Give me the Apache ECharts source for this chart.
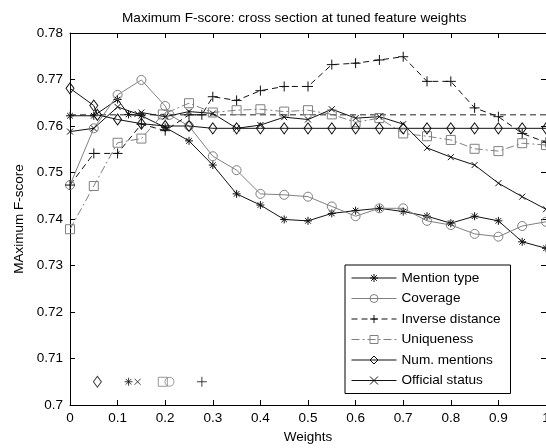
<!DOCTYPE html>
<html>
<head>
<meta charset="utf-8">
<script src="https://cdn.jsdelivr.net/npm/echarts@6/dist/echarts.min.js"></script>
<style>
  html, body { margin: 0; padding: 0; background: #fff; }
  #chart { width: 546px; height: 448px; }
</style>
</head>
<body>
<div id="chart"></div>
<script>
// Cross sections of the maximum F-score: one feature weight varied, the others held at their tuned values.
const mentionW  = [0, 0.05, 0.1, 0.123, 0.15, 0.2, 0.25, 0.3, 0.35, 0.4, 0.45, 0.5, 0.55, 0.6, 0.65, 0.7, 0.75, 0.8, 0.85, 0.9, 0.95, 1];
const mentionF  = [0.7622, 0.7622, 0.7657, 0.7625, 0.7622, 0.7597, 0.7568, 0.7516, 0.7454, 0.7430, 0.7399, 0.7396, 0.7412, 0.7418, 0.7423, 0.7416, 0.7406, 0.7391, 0.7406, 0.7396, 0.7351, 0.7337];

const coverageW = [0, 0.05, 0.1, 0.15, 0.2, 0.209, 0.25, 0.3, 0.35, 0.4, 0.45, 0.5, 0.55, 0.6, 0.65, 0.7, 0.75, 0.8, 0.85, 0.9, 0.95, 1];
const coverageF = [0.7473, 0.7595, 0.7667, 0.7699, 0.7643, 0.7624, 0.7600, 0.7535, 0.7505, 0.7454, 0.7452, 0.7448, 0.7427, 0.7406, 0.7423, 0.7423, 0.7396, 0.7387, 0.7368, 0.7362, 0.7385, 0.7394];

const inverseW  = [0, 0.05, 0.1, 0.15, 0.2, 0.25, 0.277, 0.3, 0.35, 0.4, 0.45, 0.5, 0.55, 0.6, 0.65, 0.7, 0.75, 0.8, 0.85, 0.9, 0.95, 1];
const inverseF  = [0.7473, 0.7541, 0.7541, 0.7604, 0.7590, 0.7624, 0.7624, 0.7663, 0.7655, 0.7676, 0.7685, 0.7685, 0.7732, 0.7735, 0.7742, 0.7749, 0.7696, 0.7696, 0.7639, 0.7620, 0.7584, 0.7565];

const uniqueW   = [0, 0.05, 0.1, 0.15, 0.195, 0.25, 0.3, 0.35, 0.4, 0.45, 0.5, 0.55, 0.6, 0.65, 0.7, 0.75, 0.8, 0.85, 0.9, 0.95, 1];
const uniqueF   = [0.7378, 0.7471, 0.7564, 0.7573, 0.7625, 0.7649, 0.7629, 0.7634, 0.7636, 0.7631, 0.7634, 0.7625, 0.7608, 0.7617, 0.7584, 0.7578, 0.7570, 0.7551, 0.7546, 0.7563, 0.7559];

const numW      = [0, 0.05, 0.0575, 0.1, 0.15, 0.2, 0.25, 0.3, 0.35, 0.4, 0.45, 0.5, 0.55, 0.6, 0.65, 0.7, 0.75, 0.8, 0.85, 0.9, 0.95, 1];
const numF      = [0.7681, 0.7644, 0.7624, 0.7614, 0.7605, 0.7600, 0.7600, 0.7595, 0.7595, 0.7595, 0.7595, 0.7595, 0.7595, 0.7595, 0.7595, 0.7595, 0.7595, 0.7595, 0.7595, 0.7595, 0.7595, 0.7595];

const officialW = [0, 0.05, 0.1, 0.142, 0.15, 0.2, 0.25, 0.3, 0.35, 0.4, 0.45, 0.5, 0.55, 0.6, 0.65, 0.7, 0.75, 0.8, 0.85, 0.9, 0.95, 1];
const officialF = [0.7588, 0.7595, 0.7641, 0.7626, 0.7629, 0.7620, 0.7631, 0.7627, 0.7595, 0.7602, 0.7619, 0.7614, 0.7636, 0.7617, 0.7620, 0.7604, 0.7553, 0.7533, 0.7516, 0.7477, 0.7448, 0.7421];

// Tuned weight of each feature (same order as the legend), shown as a marker row near the bottom
const tunedW = [0.123, 0.209, 0.277, 0.195, 0.0575, 0.142];
const tunedRowF = 0.705;
// F-score reached at the tuned weights
const tunedMaxF = 0.7624;

const xTicks = [0, 0.1, 0.2, 0.3, 0.4, 0.5, 0.6, 0.7, 0.8, 0.9, 1];
const yTicks = [0.7, 0.71, 0.72, 0.73, 0.74, 0.75, 0.76, 0.77, 0.78];

const FONT = '"Liberation Sans", Arial, Helvetica, sans-serif';
const BLACK = '#111';
const GRAY = '#808080';

const SYMBOLS = {
  asterisk: 'path://M5,0L5,10M0,5L10,5M1.5,1.5L8.5,8.5M8.5,1.5L1.5,8.5',
  plus: 'path://M5,0L5,10M0,5L10,5',
  cross: 'path://M0,0L10,10M10,0L0,10',
  circle: 'circle',
  square: 'rect',
  diamond: 'diamond'
};

const features = [
  { name: 'Mention type',     w: mentionW,  f: mentionF,  color: BLACK, dash: 'solid',       symbol: SYMBOLS.asterisk, size: 8 },
  { name: 'Coverage',         w: coverageW, f: coverageF, color: GRAY,  dash: 'solid',       symbol: SYMBOLS.circle,   size: 9 },
  { name: 'Inverse distance', w: inverseW,  f: inverseF,  color: BLACK, dash: [6, 4],        symbol: SYMBOLS.plus,     size: 10 },
  { name: 'Uniqueness',       w: uniqueW,   f: uniqueF,   color: GRAY,  dash: [8, 3, 2, 3],  symbol: SYMBOLS.square,   size: 9 },
  { name: 'Num. mentions',    w: numW,      f: numF,      color: BLACK, dash: 'solid',       symbol: SYMBOLS.diamond,  size: [8, 11] },
  { name: 'Official status',  w: officialW, f: officialF, color: BLACK, dash: 'solid',       symbol: SYMBOLS.cross,    size: 6 }
];

const zip = (xs, ys) => xs.map((x, i) => [x, ys[i]]);

const series = [
  {
    name: 'tuned',
    type: 'line',
    data: [[0, tunedMaxF], [1, tunedMaxF]],
    symbol: 'none',
    lineStyle: { color: '#222', width: 1, type: [6, 4] },
    silent: true,
    z: 1
  }
];

features.forEach(ft => {
  series.push({
    name: ft.name,
    type: 'line',
    data: zip(ft.w, ft.f),
    symbol: ft.symbol,
    symbolSize: ft.size,
    showAllSymbol: true,
    lineStyle: { color: ft.color, width: 1, type: ft.dash },
    itemStyle: { color: 'none', borderColor: ft.color, borderWidth: 1 },
    emphasis: { disabled: true },
    z: 2
  });
});

series.push({
  name: 'tuned weights',
  type: 'scatter',
  data: features.map((ft, i) => ({
    value: [tunedW[i], tunedRowF],
    symbol: ft.symbol,
    symbolSize: ft.size,
    itemStyle: { color: 'none', borderColor: ft.color, borderWidth: 1 }
  })),
  silent: true,
  z: 3
});

const axisCommon = {
  axisLine: { show: true, onZero: false, lineStyle: { color: '#000', width: 1 } },
  axisTick: { show: true, inside: true, length: 5, lineStyle: { color: '#000' } },
  splitLine: { show: false }
};

const chart = echarts.init(document.getElementById('chart'), null, { renderer: 'canvas' });
chart.setOption({
  animation: false,
  backgroundColor: '#fff',
  title: {
    text: 'Maximum F-score: cross section at tuned feature weights',
    left: 117,
    top: 6,
    textStyle: { fontFamily: FONT, fontSize: 13.6, fontWeight: 'normal', color: '#000' }
  },
  grid: { left: 70, right: 0, top: 33, bottom: 43, containLabel: false, outerBoundsMode: 'none' },
  legend: {
    data: features.map(f => f.name),
    orient: 'vertical',
    left: 345,
    top: 265,
    padding: [5, 10, 5, 6],
    itemWidth: 45,
    itemHeight: 10,
    itemGap: 4.5,
    backgroundColor: '#fff',
    borderColor: '#000',
    borderWidth: 1,
    borderRadius: 0,
    selectedMode: false,
    itemStyle: { borderWidth: 1 },
    lineStyle: { width: 1 },
    textStyle: { fontFamily: FONT, fontSize: 13.6, color: '#000', lineHeight: 16 }
  },
  xAxis: [
    Object.assign({}, axisCommon, {
      type: 'value', position: 'bottom', min: 0, max: 1, interval: 0.1,
      axisLabel: { color: '#000', fontFamily: FONT, fontSize: 13.5, margin: 6,
        formatter: v => String(+v.toFixed(1)) },
      name: 'Weights', nameLocation: 'middle', nameGap: 25,
      nameTextStyle: { fontFamily: FONT, fontSize: 13.5, color: '#000' }
    }),
    Object.assign({}, axisCommon, {
      type: 'value', position: 'top', min: 0, max: 1, interval: 0.1,
      axisLabel: { show: false }
    })
  ],
  yAxis: [
    Object.assign({}, axisCommon, {
      type: 'value', position: 'left', min: yTicks[0], max: yTicks[yTicks.length - 1], interval: 0.01,
      axisLabel: { color: '#000', fontFamily: FONT, fontSize: 13.5, margin: 7,
        formatter: v => String(+v.toFixed(2)) },
      name: 'MAximum F-score', nameLocation: 'middle', nameGap: 42,
      nameTextStyle: { fontFamily: FONT, fontSize: 13.5, color: '#000' }
    }),
    Object.assign({}, axisCommon, {
      type: 'value', position: 'right', min: yTicks[0], max: yTicks[yTicks.length - 1], interval: 0.01,
      axisLabel: { show: false }
    })
  ],
  series: series
});
</script>
</body>
</html>
